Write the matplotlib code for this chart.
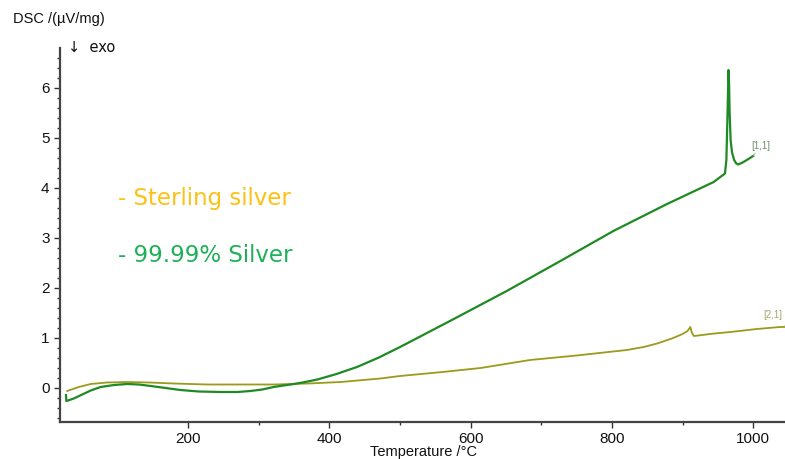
import matplotlib.pyplot as plt
import numpy as np

# DSC traces, temperature in degC and signal in uV/mg
fine_temp = [27, 27.5, 32, 38, 50, 62, 76, 95, 114, 130, 147, 168, 189, 215, 246, 270, 288,
             305, 321, 335, 345, 362, 383, 410, 439, 470, 500, 576, 651, 727, 802, 878, 944,
             960, 962, 963.5, 965, 965.8, 966.6, 968, 970, 973, 976, 979, 985, 992, 1000]
fine_dsc = [-0.15, -0.27, -0.25, -0.22, -0.14, -0.06, 0.01, 0.05, 0.07, 0.06, 0.03, -0.01, -0.05,
            -0.08, -0.09, -0.09, -0.07, -0.04, 0.01, 0.04, 0.06, 0.10, 0.16, 0.27, 0.41, 0.60,
            0.81, 1.37, 1.93, 2.53, 3.13, 3.67, 4.11, 4.28, 4.55, 5.4, 6.35, 6.1, 5.5, 4.95,
            4.7, 4.55, 4.48, 4.46, 4.5, 4.56, 4.63]

sterling_temp = [28.7, 45, 62, 85, 114, 145, 180, 227, 275, 321, 370, 416, 472, 500, 560, 614,
                 684, 750, 821, 845, 864, 885, 900, 907, 911, 913, 916, 922, 945, 968,
                 1005, 1038, 1045]
sterling_dsc = [-0.07, 0.01, 0.07, 0.10, 0.11, 0.10, 0.08, 0.06, 0.06, 0.06, 0.08, 0.11, 0.18,
                0.23, 0.31, 0.39, 0.55, 0.64, 0.75, 0.81, 0.88, 0.98, 1.07, 1.13, 1.21,
                1.10, 1.03, 1.04, 1.08, 1.11, 1.17, 1.21, 1.21]

x_ticks = [200, 400, 600, 800, 1000]
y_ticks = [0, 1, 2, 3, 4, 5, 6]

fig = plt.figure(figsize=(7.85, 4.59), dpi=100)
ax = fig.add_axes([60 / 785, 37 / 459, 725 / 785, 374 / 459])

ax.plot(sterling_temp, sterling_dsc, color='#9c9a1c', lw=1.3)
ax.plot(fine_temp, fine_dsc, color='#1f8a24', lw=1.6)

ax.set_xlim(18.5, 1045)
ax.set_ylim(-0.69, 6.79)
ax.set_xticks(x_ticks)
ax.set_xticks([300, 500, 700, 900], minor=True)
ax.set_yticks(y_ticks)
ax.set_yticks(np.arange(-0.6, 6.8, 0.2), minor=True)
ax.tick_params(axis='both', which='major', direction='out', length=4, width=1,
               color='#333333', labelsize=11, labelcolor='#111111')
ax.tick_params(axis='both', which='minor', direction='out', length=2.5, width=1,
               color='#333333')
for tl in ax.get_xticklabels() + ax.get_yticklabels():
    tl.set_fontfamily('Liberation Sans')

for side in ['top', 'right']:
    ax.spines[side].set_visible(False)
for side in ['left', 'bottom']:
    ax.spines[side].set_color('#444444')
    ax.spines[side].set_linewidth(1.6)

fig.text(13 / 785, 1 - 19 / 459, 'DSC /(\u00b5V/mg)', fontsize=10.5, family='Liberation Sans',
         va='center', ha='left', color='#111111')
fig.text(68 / 785, 1 - 48 / 459, '\u2193  exo', fontsize=10.5, family='DejaVu Sans',
         va='center', ha='left', color='#111111')
fig.text(370 / 785, 1 - 452 / 459, 'Temperature /\u00b0C', fontsize=10.5,
         family='Liberation Sans', va='center', ha='left', color='#111111')

# curve tags with short leader lines
ax.annotate('[1,1]', xy=(1000, 4.63), xytext=(1010, 4.84), fontsize=7, color='#6d8f6d',
            family='Liberation Sans', ha='center', va='center',
            arrowprops=dict(arrowstyle='-', color='#8aa88a', lw=0.6, shrinkA=3, shrinkB=0))
ax.annotate('[2,1]', xy=(1045, 1.22), xytext=(1028, 1.45), fontsize=7, color='#a8a66a',
            family='Liberation Sans', ha='center', va='center',
            arrowprops=dict(arrowstyle='-', color='#b8b680', lw=0.6, shrinkA=3, shrinkB=0))

fig.text(118 / 785, 1 - 198 / 459, '- Sterling silver', fontsize=16.5, family='DejaVu Sans',
         color='#fdc114', va='center', ha='left')
fig.text(118 / 785, 1 - 255 / 459, '- 99.99% Silver', fontsize=16.5, family='DejaVu Sans',
         color='#1eb158', va='center', ha='left')

fig.savefig('out.png', dpi=100)
